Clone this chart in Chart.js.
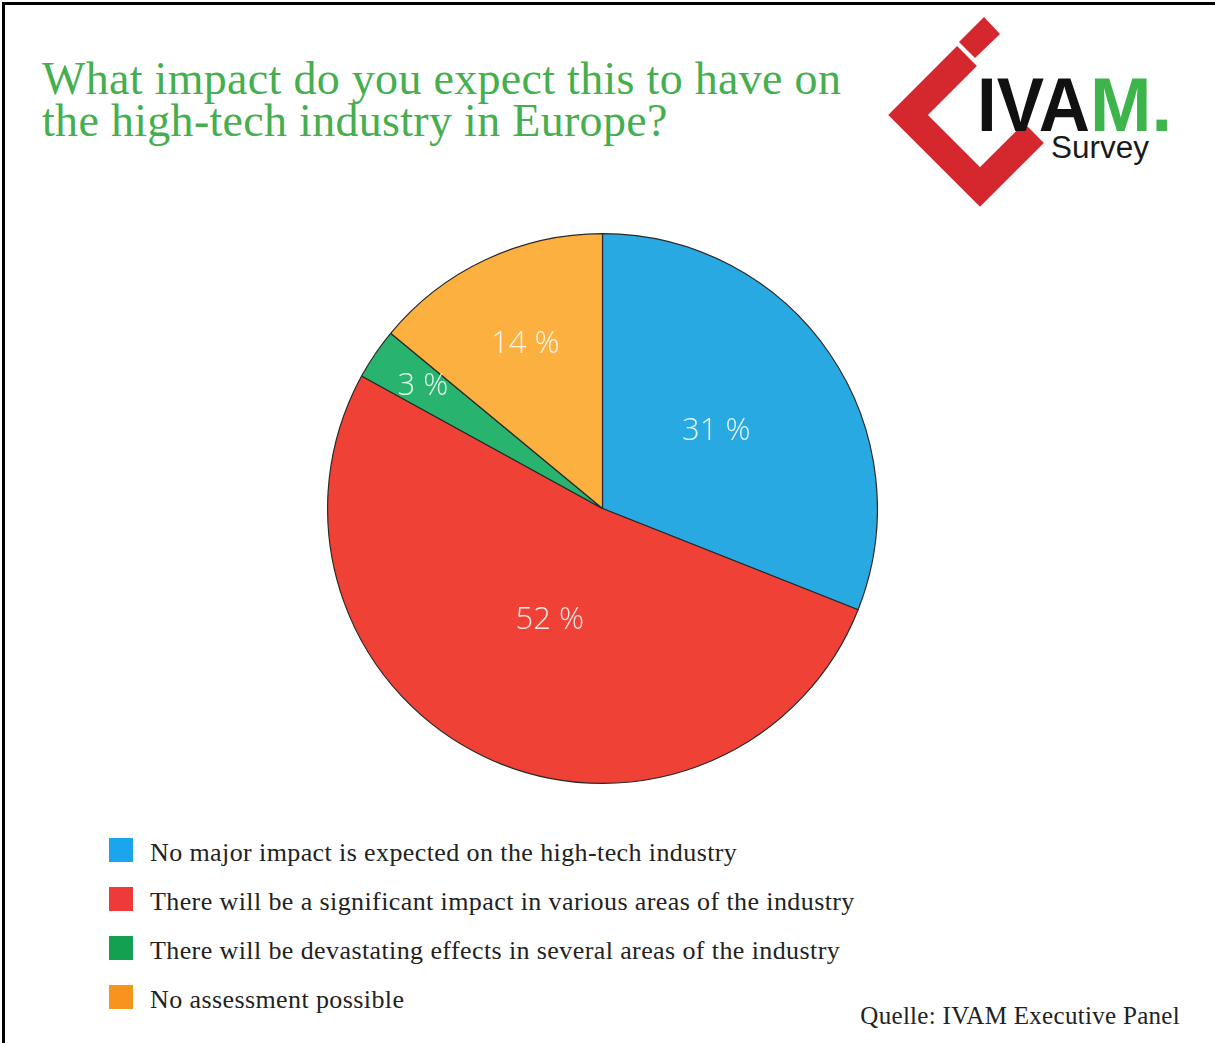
<!DOCTYPE html>
<html>
<head>
<meta charset="utf-8">
<script src="https://cdn.jsdelivr.net/npm/chart.js@4.4.1/dist/chart.umd.min.js"></script>
<style>
  html, body { margin: 0; padding: 0; background: #fff; }
  body { width: 1215px; height: 1043px; position: relative; overflow: hidden; }
  .frame { position: absolute; left: 2px; top: 2px; width: 1300px; height: 1100px;
           border-left: 3px solid #000; border-top: 3px solid #000; }
  .title { position: absolute; left: 42px; top: 58px; color: #45ae4e;
           font-family: "Liberation Serif", serif; font-size: 46px; line-height: 42px;
           letter-spacing: 0.3px; white-space: nowrap; }
  .chartbox { position: absolute; left: 327px; top: 233px; width: 551px; height: 551px; }
  .legend { position: absolute; left: 109px; top: 838px; }
  .legend .row { position: relative; height: 49px; }
  .legend .sw { position: absolute; left: 0; top: 0; width: 24px; height: 24px; }
  .legend .tx { position: absolute; left: 41px; top: 0px; white-space: nowrap; color: #222;
                font-family: "Liberation Serif", serif; font-size: 26px; line-height: 30px; letter-spacing: 0.4px; }
  .source { position: absolute; right: 35px; top: 1002px; color: #222; white-space: nowrap;
            font-family: "Liberation Serif", serif; font-size: 25px; letter-spacing: 0.3px; }
  .logo { position: absolute; left: 870px; top: 0; }
</style>
</head>
<body>
<div class="frame"></div>
<div class="title" id="title"></div>
<svg class="logo" width="345" height="220" viewBox="870 0 345 220">
  <polygon points="984,17 1000,34 975,58 959,42" fill="#d5282e"/>
  <polyline points="967,56 908,115 980,187 1034,133" fill="none" stroke="#d5282e" stroke-width="28" stroke-linejoin="miter" stroke-linecap="butt"/>
  <text x="977" y="131" font-family="Liberation Sans, Arial, sans-serif" font-size="76" font-weight="bold" fill="#111" textLength="113" lengthAdjust="spacingAndGlyphs">IVA</text>
  <text x="1090" y="131" font-family="Liberation Sans, Arial, sans-serif" font-size="76" font-weight="bold" fill="#3db54a" textLength="82" lengthAdjust="spacingAndGlyphs">M.</text>
  <text x="1051" y="158" font-family="Liberation Sans, Arial, sans-serif" font-size="31" fill="#1a1a1a" textLength="98" lengthAdjust="spacingAndGlyphs">Survey</text>
</svg>
<div class="chartbox"><canvas id="c"></canvas></div>
<div class="legend" id="legend"></div>
<div class="source" id="source"></div>
<script>
const titleLines = ["What impact do you expect this to have on", "the high-tech industry in Europe?"];
const categories = [
  "No major impact is expected on the high-tech industry",
  "There will be a significant impact in various areas of the industry",
  "There will be devastating effects in several areas of the industry",
  "No assessment possible"
];
const values = [31, 52, 3, 14];
const sliceColors = ["#29a9e1", "#ef4136", "#28b46f", "#fbb040"];
const legendColors = ["#1aa5ec", "#ee3a39", "#13a050", "#f7941d"];
const sourceText = "Quelle: IVAM Executive Panel";

document.getElementById('title').innerHTML = titleLines.join('<br>');
document.getElementById('source').textContent = sourceText;
const lg = document.getElementById('legend');
categories.forEach((c, i) => {
  const row = document.createElement('div'); row.className = 'row';
  const sw = document.createElement('div'); sw.className = 'sw'; sw.style.background = legendColors[i];
  const tx = document.createElement('div'); tx.className = 'tx'; tx.textContent = c;
  row.appendChild(sw); row.appendChild(tx); lg.appendChild(row);
});

const labelRadius = [0.5, 0.45, 0.79, 0.66];
const sliceLabels = {
  id: 'sliceLabels',
  afterDatasetsDraw(chart) {
    const ctx = chart.ctx;
    const meta = chart.getDatasetMeta(0);
    ctx.save();
    ctx.font = '300 31px "Open Sans", Lato, sans-serif';
    ctx.fillStyle = 'rgba(255,255,255,0.88)';
    ctx.textAlign = 'center';
    ctx.textBaseline = 'middle';
    meta.data.forEach((arc, i) => {
      const p = arc.getProps(['x', 'y', 'startAngle', 'endAngle', 'outerRadius'], true);
      const a = (p.startAngle + p.endAngle) / 2;
      const r = p.outerRadius * labelRadius[i];
      ctx.fillText(values[i] + ' %', p.x + Math.cos(a) * r, p.y + Math.sin(a) * r);
    });
    ctx.restore();
  }
};

new Chart(document.getElementById('c'), {
  type: 'pie',
  data: {
    labels: categories,
    datasets: [{
      data: values,
      backgroundColor: sliceColors,
      borderColor: '#2a2a2a',
      borderWidth: 1.2
    }]
  },
  options: {
    responsive: true,
    maintainAspectRatio: false,
    animation: false,
    layout: { padding: 0 },
    plugins: { legend: { display: false }, tooltip: { enabled: false } }
  },
  plugins: [sliceLabels]
});
</script>
</body>
</html>
